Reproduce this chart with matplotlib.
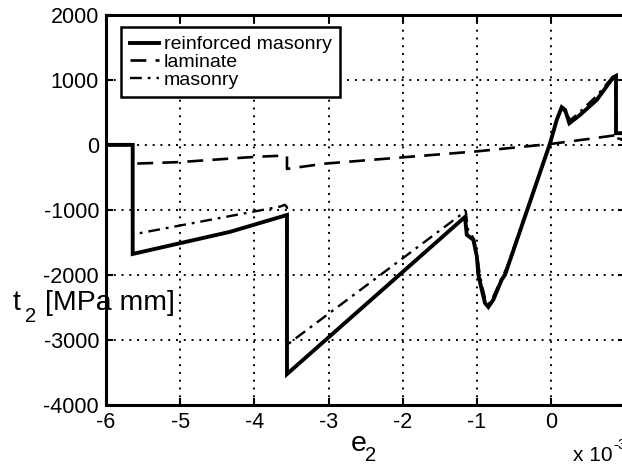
import matplotlib
matplotlib.use("Agg")
import matplotlib.pyplot as plt
import numpy as np

plt.rcParams['font.family'] = ['Liberation Sans', 'DejaVu Sans']

# Data (e2 in units of 1e-3, t2 in MPa mm)
rm_x = [-6, -5.64, -5.64, -4.33, -3.56, -3.56, -1.16, -1.136, -1.047, -1.0, -0.98, -0.934,
        -0.89, -0.845, -0.778, -0.665, -0.62, -0.32, -0.013, 0.077, 0.144, 0.19, 0.247,
        0.39, 0.616, 0.84, 0.876, 0.876, 0.97]
rm_y = [0, 0, -1680, -1340, -1080, -3530, -1110, -1385, -1462, -1718, -2000, -2231,
        -2436, -2497, -2385, -2077, -2000, -1000, 26, 385, 580, 538, 333,
        460, 692, 1041, 1062, 180, 180]

lam_x = [-6, -5.64, -5.64, -5.0, -4.0, -3.6, -3.56, -3.56, -3.06, -2.3, -1.0, 0.0, 0.5,
         0.88, 0.9, 0.97]
lam_y = [0, 0, -290, -265, -185, -165, -170, -370, -290, -220, -100, 15, 90,
         150, 80, 80]

mas_x = [-6, -5.64, -5.64, -3.65, -3.59, -3.56, -3.56, -1.15, -1.12, -1.04, -0.99, -0.96,
         -0.92, -0.88, -0.84, -0.78, -0.66, -0.6, -0.32, 0.0, 0.08, 0.14, 0.2, 0.26,
         0.4, 0.62, 0.84, 0.87, 0.88, 0.97]
mas_y = [0, 0, -1380, -950, -923, -960, -3080, -1020, -1300, -1450, -1750, -2000,
         -2220, -2400, -2450, -2340, -2040, -1900, -980, 60, 380, 560, 500, 380,
         520, 760, 1060, 1070, 100, 90]

xticks = [-6, -5, -4, -3, -2, -1, 0, 1]
yticks = [-4000, -3000, -2000, -1000, 0, 1000, 2000]
labels = ['reinforced masonry', 'laminate', 'masonry']

W, H = 622, 465
fig = plt.figure(figsize=(W/100, H/100), dpi=100)
left, right, bottom, top = 106, 625.2, 404.6, 15
ax = fig.add_axes([left/W, 1-bottom/H, (right-left)/W, (bottom-top)/H])

ax.plot(rm_x, rm_y, color='black', lw=2.8, solid_joinstyle='miter', label=labels[0])
ax.plot(lam_x, lam_y, color='black', lw=1.9, dashes=(6, 3.5), label=labels[1])
ax.plot(mas_x, mas_y, color='black', lw=1.7, dashes=(5, 2.5, 1.2, 2.5), label=labels[2])

ax.set_xlim(-6, 1)
ax.set_ylim(-4000, 2000)
ax.set_xticks(xticks)
ax.set_yticks(yticks)
ax.set_xticklabels([str(t) for t in xticks[:-1]] + [''])
ax.set_yticklabels([str(t) for t in yticks])
ax.grid(True, color='black', linestyle=(0, (1, 3)), lw=1.4)
ax.tick_params(direction='in', length=5, width=1.5, labelsize=15.5, pad=5,
               top=True, right=True)
for s in ax.spines.values():
    s.set_linewidth(2.2)
    s.set_color('black')

leg = ax.legend(loc='upper left', bbox_to_anchor=((121-left)/(right-left), (bottom-27)/(bottom-top)),
                fontsize=14, frameon=True, fancybox=False, framealpha=1, edgecolor='black',
                handlelength=1.5, handletextpad=0.25, labelspacing=0.0, borderpad=0.45,
                borderaxespad=0)
leg.get_frame().set_linewidth(1.8)

# y label (horizontal, MATLAB style)
fig.text(13/W, 1-310/H, 't', fontsize=20.5, va='baseline', ha='left')
fig.text(25/W, 1-322/H, '2', fontsize=14.5, va='baseline', ha='left')
fig.text(45/W, 1-310/H, '[MPa mm]', fontsize=20.5, va='baseline', ha='left')

# x label
fig.text(351/W, 1-451/H, 'e', fontsize=20.5, va='baseline', ha='left')
fig.text(365/W, 1-461/H, '2', fontsize=14.5, va='baseline', ha='left')

# exponent
fig.text(573/W, 1-461/H, 'x 10', fontsize=15, va='baseline', ha='left')
fig.text(613/W, 1-449/H, '-3', fontsize=11, va='baseline', ha='left')

fig.savefig('out.png', dpi=100)
